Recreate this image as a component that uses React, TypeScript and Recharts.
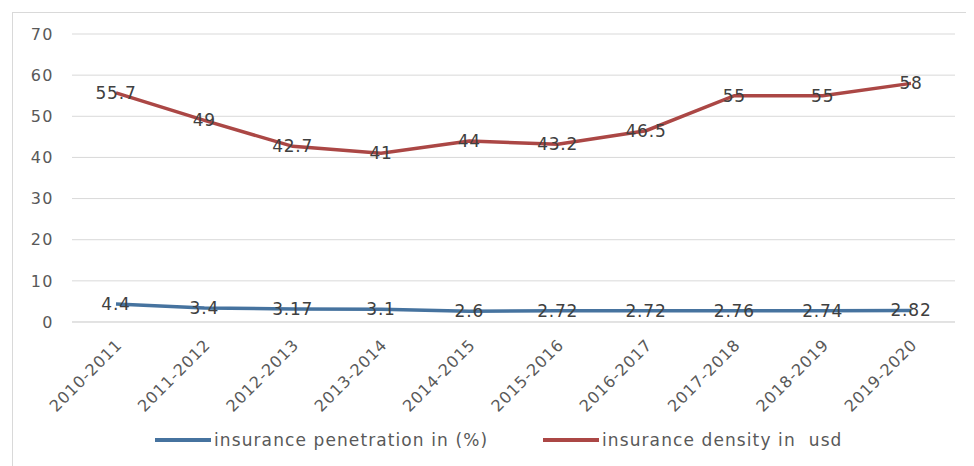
import { LineChart, Line, XAxis, YAxis, CartesianGrid, LabelList } from 'recharts';

// ─── データ ───────────────────────────────────────────────────────────────────

const periods = [
  '2010-2011', '2011-2012', '2012-2013', '2013-2014', '2014-2015',
  '2015-2016', '2016-2017', '2017-2018', '2018-2019', '2019-2020',
];
const penetration = [4.4, 3.4, 3.17, 3.1, 2.6, 2.72, 2.72, 2.76, 2.74, 2.82];
const density = [55.7, 49, 42.7, 41, 44, 43.2, 46.5, 55, 55, 58];
const yTicks = [0, 10, 20, 30, 40, 50, 60, 70];

const BLUE = '#46739f';
const RED = '#ab4745';
const TEXT = '#595959';
const FONT = '"DejaVu Sans", sans-serif';

const data = periods.map((p, i) => ({ period: p, penetration: penetration[i], density: density[i] }));

function XTick({ x, y, payload }: any) {
  const tx = x + 7;
  const ty = y + 16;
  return (
    <text
      x={tx}
      y={ty}
      transform={`rotate(-45, ${tx}, ${ty})`}
      textAnchor="end"
      fontSize={16}
      letterSpacing={0.8}
      fill={TEXT}
      fontFamily={FONT}
    >
      {payload.value}
    </text>
  );
}

function LegendItem({ color, label, left }: { color: string; label: string; left: number }) {
  return (
    <div style={{ position: 'absolute', left, top: 422, display: 'flex', alignItems: 'center' }}>
      <div style={{ width: 56, height: 4, background: color }} />
      <span
        style={{
          fontFamily: FONT, fontSize: 17, letterSpacing: 1.1, color: TEXT,
          marginLeft: 3, whiteSpace: 'pre',
        }}
      >
        {label}
      </span>
    </div>
  );
}

export default function App() {
  const labelStyle = { fontSize: 17, letterSpacing: 0.8, fill: '#404040', fontFamily: FONT };
  return (
    <div style={{ position: 'relative', width: 966, height: 458, overflow: 'hidden' }}>
      <div
        style={{
          position: 'absolute', left: 4, top: 4, width: 980, height: 480,
          border: '1px solid #d9d9d9',
        }}
      />
      <LineChart
        width={966}
        height={458}
        data={data}
        margin={{ top: 26, right: 19, left: 14, bottom: 74 }}
        style={{ position: 'absolute', left: 0, top: 0 }}
      >
        <CartesianGrid vertical={false} stroke="#d9d9d9" />
        <XAxis
          dataKey="period"
          padding={{ left: 44, right: 44 }}
          height={70}
          axisLine={{ stroke: '#d9d9d9' }}
          tickLine={false}
          tick={<XTick />}
          interval={0}
        />
        <YAxis
          domain={[0, 70]}
          ticks={yTicks}
          width={50}
          axisLine={false}
          tickLine={false}
          tickMargin={12}
          tick={{ fontSize: 16, letterSpacing: 1.5, fill: TEXT, fontFamily: FONT }}
        />
        <Line
          dataKey="penetration"
          stroke={BLUE}
          strokeWidth={3.5}
          dot={false}
          isAnimationActive={false}
        >
          <LabelList dataKey="penetration" position="center" style={labelStyle} />
        </Line>
        <Line
          dataKey="density"
          stroke={RED}
          strokeWidth={3.5}
          dot={false}
          isAnimationActive={false}
        >
          <LabelList dataKey="density" position="center" style={labelStyle} />
        </Line>
      </LineChart>
      <LegendItem color={BLUE} label="insurance penetration in (%)" left={147} />
      <LegendItem color={RED} label="insurance density in  usd" left={535} />
    </div>
  );
}
